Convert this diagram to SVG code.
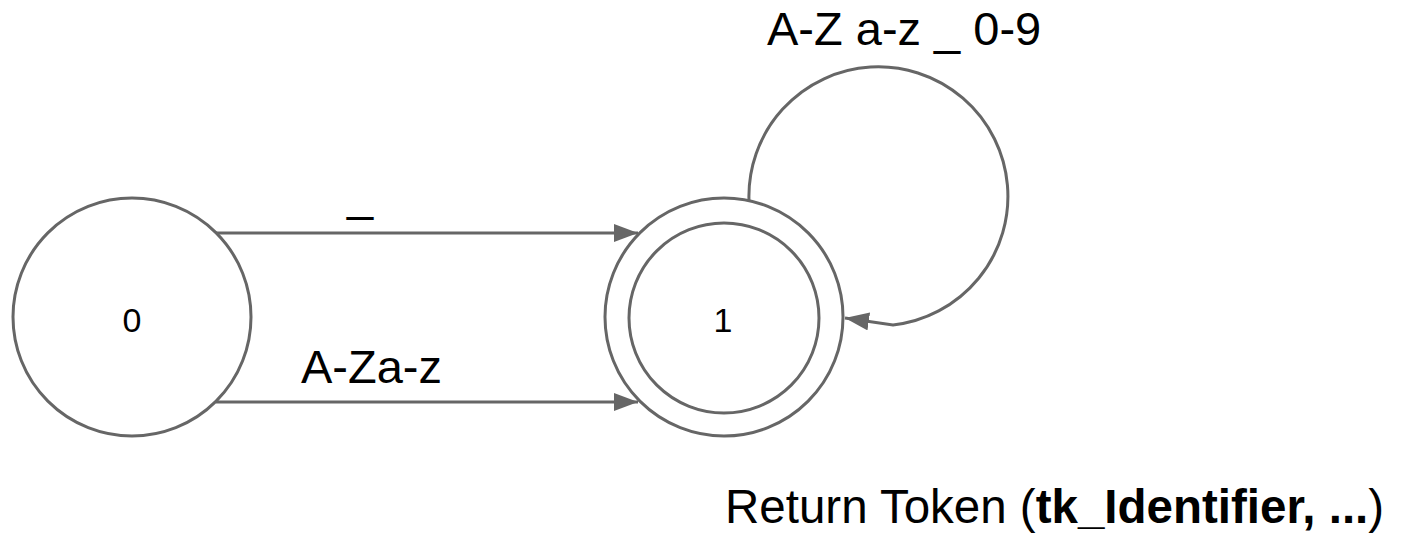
<svg xmlns="http://www.w3.org/2000/svg" width="1406" height="544" viewBox="0 0 1406 544">
<style>
.st{fill:#ffffff;stroke:#666666;stroke-width:3}
.ln{fill:none;stroke:#666666;stroke-width:3}
.lb{font-family:"Liberation Sans",Arial,sans-serif;fill:#000000}
.nl{font-family:"Liberation Sans",Arial,sans-serif;font-size:34px;fill:#000000;text-anchor:middle}
</style>
<defs>
<marker id="ah" markerUnits="userSpaceOnUse" markerWidth="26" markerHeight="20" refX="24" refY="9" orient="auto">
<path d="M0,0 L24,9 L0,18 Z" fill="#666666"/>
</marker>
</defs>
<rect width="1406" height="544" fill="#ffffff"/>
<g id="connectors">
<line class="ln" x1="216" y1="233" x2="638" y2="233" marker-end="url(#ah)"/>
<line class="ln" x1="216" y1="402" x2="638" y2="402" marker-end="url(#ah)"/>
<path class="ln" d="M749,201 A129.5,129.5 0 1 1 893,325 L845,318" marker-end="url(#ah)"/>
</g>
<g id="node-0">
<circle class="st" cx="132" cy="317" r="119"/>
<text class="nl" x="132" y="332">0</text>
</g>
<g id="node-1">
<circle class="st" cx="724" cy="317" r="119"/>
<circle class="st" cx="724" cy="318" r="95"/>
<text class="nl" x="723" y="332">1</text>
</g>
<g id="labels">
<text class="lb" x="347" y="211" font-size="47">_</text>
<text class="lb" x="301" y="383" font-size="47">A-Za-z</text>
<text class="lb" x="767" y="45" font-size="47">A-Z a-z _ 0-9</text>
<text class="lb" x="725" y="523" font-size="47.5">Return Token (<tspan font-weight="bold">tk_Identifier, ...</tspan>)</text>
</g>
</svg>
